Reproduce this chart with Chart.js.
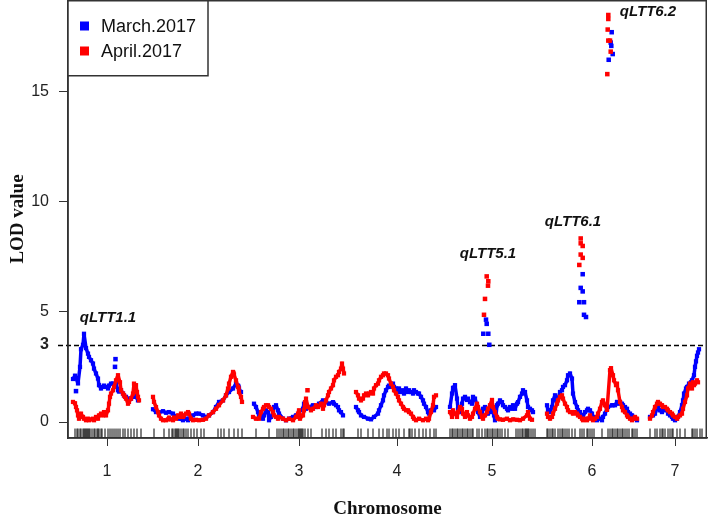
<!DOCTYPE html>
<html>
<head>
<meta charset="utf-8">
<script src="https://cdn.jsdelivr.net/npm/chart.js@4.4.0/dist/chart.umd.min.js"></script>
<style>
  html, body { margin: 0; padding: 0; background: #fff; }
</style>
</head>
<body>
<canvas id="chart" width="708" height="515"></canvas>
<script>
// positions along the genome (map units), LOD values
const chromLabels = ["1", "2", "3", "4", "5", "6", "7"];
const chromTicks = [39, 130, 231, 329, 424, 524, 607];
const lodTicks = [0, 5, 10, 15];
const threshold = 3.5;
const thresholdLabel = "3";

const marchChr1 = [[5,1.95],[7,2.1],[10,1.75],[12,2.5],[13,3.3],[15,3.5],[16,4.0],[18,3.35],[20,3.1],[21,2.95],[23,2.8],[25,2.65],[26,2.42],[28,2.2],[30,1.97],[31,1.67],[33,1.52],[35,1.59],[36,1.65],[38,1.59],[40,1.52],[41,1.65],[43,1.74],[45,1.74],[48,1.74],[50,1.44],[51,1.38],[53,1.44],[55,1.29],[56,1.2],[58,1.14],[60,1.06],[61,1.0],[63,1.06],[65,1.14],[66,1.21],[68,1.14],[70,0.98]];
const aprilChr1 = [[5,0.91],[7,0.85],[8,0.68],[9,0.53],[10,0.3],[11,0.15],[13,0.38],[15,0.23],[16,0.15],[18,0.08],[20,0.15],[21,0.08],[23,0.12],[25,0.15],[26,0.08],[28,0.23],[30,0.15],[31,0.3],[33,0.38],[35,0.3],[36,0.45],[38,0.3],[40,0.53],[41,0.83],[42,1.14],[43,1.29],[45,1.44],[46,1.59],[48,1.89],[50,2.12],[52,1.8],[53,1.44],[55,1.29],[56,1.21],[57,1.14],[58,1.06],[60,0.83],[61,0.91],[63,1.06],[65,1.29],[66,1.74],[68,1.67],[69,1.36],[70,1.14],[71,0.98]];

const marchChr2 = [[85,0.58],[88,0.45],[91,0.42],[95,0.49],[98,0.42],[101,0.45],[105,0.38],[108,0.23],[111,0.15],[115,0.08],[118,0.15],[120,0.08],[121,0.15],[125,0.3],[128,0.38],[131,0.38],[135,0.3],[138,0.23],[141,0.3],[145,0.45],[148,0.68],[151,0.91],[155,0.98],[158,1.21],[161,1.36],[165,1.52],[168,1.74],[170,1.65],[171,1.52],[173,1.36]];
const aprilChr2 = [[85,1.14],[86,0.91],[88,0.68],[90,0.45],[91,0.3],[93,0.15],[95,0.08],[98,0.08],[100,0.12],[101,0.2],[103,0.12],[105,0.08],[106,0.2],[108,0.15],[110,0.3],[111,0.23],[113,0.38],[115,0.23],[116,0.3],[118,0.38],[120,0.45],[121,0.38],[123,0.15],[125,0.08],[128,0.1],[131,0.08],[135,0.1],[138,0.15],[141,0.3],[145,0.45],[148,0.6],[151,0.76],[155,0.98],[158,1.21],[160,1.52],[161,1.74],[163,2.05],[165,2.27],[166,2.15],[168,1.89],[170,1.59],[171,1.36],[173,1.14],[174,0.91]];

const marchChr3 = [[186,0.83],[188,0.68],[190,0.45],[191,0.23],[193,0.38],[195,0.15],[196,0.3],[198,0.53],[200,0.45],[201,0.08],[203,0.23],[205,0.45],[206,0.68],[208,0.76],[210,0.53],[211,0.38],[215,0.15],[218,0.08],[221,0.15],[225,0.23],[228,0.3],[231,0.45],[235,0.6],[236,0.83],[238,0.6],[241,0.68],[245,0.76],[248,0.68],[251,0.83],[255,0.98],[258,0.9],[261,0.83],[265,0.9],[266,0.83],[268,0.76],[270,0.68],[271,0.53],[273,0.45],[275,0.3]];
const aprilChr3 = [[185,0.23],[188,0.15],[191,0.15],[193,0.45],[195,0.6],[196,0.68],[198,0.76],[200,0.76],[201,0.68],[203,0.6],[205,0.45],[206,0.3],[208,0.23],[210,0.15],[211,0.23],[215,0.15],[218,0.08],[221,0.15],[225,0.08],[228,0.23],[230,0.38],[231,0.53],[232,0.15],[235,0.3],[236,0.53],[237,0.9],[238,1.06],[240,0.68],[243,0.53],[245,0.6],[248,0.76],[250,0.68],[253,0.83],[255,0.6],[256,0.76],[258,0.98],[260,1.21],[261,1.36],[263,1.52],[265,1.67],[266,1.89],[268,2.05],[270,2.12],[271,2.27],[273,2.42],[274,2.65],[275,2.42],[276,2.2]];

const marchChr4 = [[288,0.68],[290,0.53],[291,0.45],[293,0.3],[296,0.23],[300,0.15],[303,0.12],[306,0.23],[310,0.38],[311,0.53],[313,0.76],[315,0.98],[316,1.21],[318,1.44],[320,1.59],[321,1.65],[323,1.59],[325,1.74],[326,1.59],[328,1.52],[330,1.36],[331,1.52],[333,1.36],[335,1.44],[336,1.29],[338,1.52],[340,1.36],[341,1.44],[343,1.36],[345,1.29],[346,1.44],[348,1.36],[350,1.29],[351,1.29],[353,1.14],[355,0.98],[356,0.83],[358,0.68],[360,0.45],[361,0.38],[363,0.53],[365,0.6],[366,0.53],[368,0.68]];
const aprilChr4 = [[288,1.36],[290,1.21],[291,1.06],[293,0.98],[295,1.06],[296,1.21],[298,1.29],[300,1.21],[301,1.29],[303,1.36],[305,1.29],[306,1.52],[308,1.67],[310,1.74],[311,1.89],[313,2.05],[315,2.12],[316,2.2],[318,2.2],[320,2.12],[321,1.97],[323,1.74],[325,1.59],[326,1.44],[328,1.29],[330,1.14],[331,0.98],[333,0.83],[335,0.68],[336,0.6],[338,0.53],[340,0.53],[341,0.45],[343,0.38],[345,0.23],[346,0.15],[348,0.08],[351,0.15],[355,0.08],[358,0.15],[360,0.08],[361,0.15],[363,0.45],[365,0.76],[366,1.14],[368,1.21]];

const marchChr5 = [[382,0.68],[384,1.29],[385,1.55],[387,1.67],[389,1.06],[390,0.6],[392,0.45],[394,0.83],[395,1.06],[397,1.14],[399,1.0],[400,1.06],[402,0.9],[404,0.83],[405,1.14],[407,1.06],[409,0.76],[410,0.45],[412,0.23],[414,0.38],[415,0.6],[417,0.68],[419,0.53],[420,0.38],[422,0.45],[424,0.68],[426,0.3],[427,0.08],[428,0.3],[429,0.76],[430,0.83],[432,0.98],[434,0.9],[435,0.76],[437,0.68],[439,0.6],[440,0.53],[442,0.68],[444,0.6],[445,0.76],[447,0.6],[449,0.83],[450,0.9],[452,1.14],[454,1.29],[455,1.44],[457,1.36],[459,0.98],[460,0.68],[462,0.6],[464,0.53],[465,0.45]];
const aprilChr5 = [[382,0.45],[384,0.23],[385,0.53],[387,0.38],[389,0.23],[390,0.45],[392,0.68],[394,0.6],[395,0.38],[397,0.23],[399,0.45],[400,0.3],[402,0.15],[404,0.23],[405,0.38],[407,0.6],[409,0.83],[410,0.68],[412,0.45],[414,0.23],[415,0.15],[417,0.3],[419,0.45],[420,0.6],[422,0.76],[424,1.0],[425,0.68],[427,0.45],[429,0.23],[430,0.15],[432,0.12],[435,0.1],[439,0.15],[442,0.08],[445,0.12],[449,0.1],[452,0.08],[455,0.15],[459,0.3],[460,0.45],[462,0.15],[464,0.1]];

const marchChr6 = [[479,0.76],[480,0.53],[482,0.45],[484,0.68],[485,0.98],[487,1.21],[489,0.9],[490,1.06],[492,1.36],[494,1.44],[495,1.59],[497,1.67],[499,1.89],[500,2.12],[502,2.2],[504,1.97],[505,1.29],[507,0.9],[509,0.68],[510,0.53],[512,0.45],[514,0.3],[515,0.23],[517,0.45],[519,0.53],[520,0.6],[522,0.53],[524,0.38],[525,0.23],[527,0.15],[529,0.08],[530,0.23],[532,0.15],[534,0.08],[535,0.23],[537,0.38],[539,0.6],[540,0.68],[544,0.76],[545,0.76],[547,0.76],[549,0.91],[550,0.83],[552,0.91],[554,0.83],[555,0.76],[557,0.68],[559,0.6],[560,0.45],[562,0.38],[564,0.3],[565,0.23],[567,0.15],[569,0.08]];
const aprilChr6 = [[479,0.38],[480,0.23],[482,0.15],[484,0.23],[485,0.38],[487,0.6],[489,0.83],[490,0.98],[492,1.14],[494,1.21],[495,1.06],[497,0.83],[499,0.68],[500,0.53],[502,0.45],[504,0.45],[505,0.38],[507,0.45],[509,0.38],[510,0.3],[512,0.23],[514,0.15],[515,0.08],[517,0.15],[519,0.08],[520,0.15],[522,0.3],[524,0.15],[525,0.08],[527,0.15],[529,0.23],[530,0.38],[532,0.6],[534,0.91],[535,0.98],[537,0.76],[539,0.55],[542,2.35],[543,2.44],[545,2.12],[546,1.89],[548,1.67],[549,1.74],[550,1.44],[552,0.91],[554,0.68],[555,0.53],[557,0.45],[559,0.3],[560,0.23],[562,0.15],[564,0.08],[565,0.15],[567,0.23],[569,0.15]];

const marchChr7 = [[582,0.23],[585,0.3],[587,0.38],[589,0.6],[590,0.68],[592,0.53],[594,0.45],[595,0.53],[597,0.6],[599,0.53],[600,0.38],[602,0.3],[604,0.23],[605,0.15],[607,0.08],[609,0.15],[610,0.23],[612,0.45],[614,0.76],[615,0.98],[616,1.29],[618,1.52],[619,1.59],[621,1.74],[623,1.8],[624,1.89],[626,2.12],[627,2.5],[628,2.75],[629,3.0],[630,3.15],[631,3.3]];
const aprilChr7 = [[582,0.15],[584,0.3],[585,0.45],[587,0.68],[589,0.83],[590,0.91],[592,0.83],[594,0.76],[595,0.68],[597,0.68],[599,0.6],[600,0.53],[602,0.45],[604,0.38],[605,0.3],[607,0.23],[609,0.15],[610,0.23],[612,0.3],[614,0.38],[615,0.6],[617,0.91],[619,1.21],[620,1.52],[622,1.74],[624,1.52],[625,1.8],[626,1.67],[627,1.74],[629,1.89],[630,1.8]];

// isolated points (QTL peaks and stray values)
const marchSingles = [[8,1.4],[47,2.5],[47.5,2.85],[418,4.64],[418.7,4.45],[415.3,4.0],[420.3,4.0],[421.3,3.5],[514.7,6.7],[512.7,6.08],[514.7,5.92],[511.3,5.43],[516,5.43],[516,4.86],[518,4.76],[543.7,17.67],[542.7,17.2],[543.3,17.05],[544.7,16.68],[540.7,16.42]];
const aprilSingles = [[239.5,1.44],[418.7,6.6],[420.3,6.38],[420,6.18],[417,5.58],[416,4.86],[512.7,8.32],[512.7,8.1],[514.7,7.98],[512.7,7.59],[514.7,7.44],[511.3,7.12],[540.3,18.45],[540.3,18.27],[539.7,17.79],[540.3,17.29],[542,17.29],[542.7,16.79],[539.3,15.77]];

// marker positions (rug)
const markerPos = [7,9,10,12,13,15,16,17,18,19,20,21,22,24,26,27,29,30,31,33,34,37,40,42,44,46,48,50,52,55,57,60,63,66,69,73,
  86,96,101,104,105,107,108,109,110,111,113,115,116,118,120,123,126,129,133,136,150,153,156,161,166,170,174,
  188,201,209,211,213,215,216,218,220,221,223,225,226,228,230,231,232,233,234,235,237,240,243,254,258,261,265,268,273,275,276,
  290,293,300,305,311,315,319,321,325,328,331,336,341,342,344,347,351,355,358,362,366,368,
  382,384,385,387,389,390,392,394,395,397,399,400,402,404,405,409,411,414,417,419,420,422,424,425,427,429,430,432,434,437,440,448,450,452,454,455,457,458,459,460,461,463,465,467,
  479,480,482,484,485,487,490,492,494,495,497,499,501,504,507,512,514,516,519,520,522,524,526,534,540,542,544,545,547,549,550,552,554,555,557,559,561,564,565,567,569,
  582,587,589,592,594,595,597,600,602,604,605,609,612,617,624,625,627,629,632,634];

const qtlNames = ["qLTT1.1", "qLTT5.1", "qLTT6.1", "qLTT6.2"];
const qtlPos = [40, 420, 505, 580];
const qtlLod = [4.73, 7.64, 9.09, 18.6];

const sans = "'Liberation Sans', Arial, sans-serif";
const serif = "'Liberation Serif', 'Times New Roman', serif";

const series = [
    { label: "March.2017", color: "#0000ff", order: 2,
      chroms: [marchChr1, marchChr2, marchChr3, marchChr4, marchChr5, marchChr6, marchChr7], singles: marchSingles },
    { label: "April.2017", color: "#ff0000", order: 1,
      chroms: [aprilChr1, aprilChr2, aprilChr3, aprilChr4, aprilChr5, aprilChr6, aprilChr7], singles: aprilSingles }
];

const toXY = arr => arr.map(p => ({ x: p[0], y: p[1] }));

const datasets = [];
series.forEach(s => {
    s.chroms.forEach(c => {
        datasets.push({
            label: s.label,
            data: toXY(c),
            showLine: true,
            borderColor: s.color,
            backgroundColor: s.color,
            borderWidth: 3.5,
            borderJoinStyle: "round",
            pointStyle: "rect",
            pointRadius: 3,
            pointBorderWidth: 0,
            order: s.order
        });
    });
    datasets.push({
        label: s.label,
        data: toXY(s.singles),
        showLine: false,
        backgroundColor: s.color,
        pointStyle: "rect",
        pointRadius: 3.2,
        pointBorderWidth: 0,
        order: s.order
    });
});
datasets.push({
    label: "markers",
    data: markerPos.map(x => ({ x: x, y: -0.5 })),
    showLine: false,
    pointStyle: "line",
    rotation: 90,
    pointRadius: 4.5,
    pointBorderWidth: 1,
    pointBorderColor: "#000",
    order: 3
});

// scales compute their own edge padding; the frame here must fill the canvas edges
function noEdgePadding(s) {
    s.paddingTop = 0;
    s.paddingBottom = 0;
    s.paddingLeft = 0;
    s.paddingRight = 0;
}

const extras = {
    id: "extras",
    beforeDatasetsDraw(chart) {
        const { ctx, chartArea, scales } = chart;
        const y = Math.round(scales.y.getPixelForValue(threshold)) + 0.5;
        ctx.save();
        ctx.strokeStyle = "#000";
        ctx.lineWidth = 1.3;
        ctx.setLineDash([5, 3]);
        ctx.beginPath();
        ctx.moveTo(chartArea.left - 10, y);
        ctx.lineTo(chartArea.right, y);
        ctx.stroke();
        ctx.restore();
    },
    afterDatasetsDraw(chart) {
        const { ctx, chartArea, scales } = chart;
        ctx.save();
        // plot frame
        ctx.strokeStyle = "#333";
        ctx.lineWidth = 1.5;
        ctx.strokeRect(chartArea.left, chartArea.top + 0.75, chartArea.right - chartArea.left - 0.75, chartArea.bottom - chartArea.top - 0.75);

        // QTL names
        ctx.fillStyle = "#111";
        ctx.font = "italic bold 15px " + sans;
        ctx.textAlign = "center";
        ctx.textBaseline = "middle";
        qtlNames.forEach((n, i) => {
            ctx.fillText(n, scales.x.getPixelForValue(qtlPos[i]), scales.y.getPixelForValue(qtlLod[i]));
        });

        // legend box
        const lx = chartArea.left, ly = chartArea.top;
        ctx.fillStyle = "#fff";
        ctx.fillRect(lx, ly, 140, 76);
        ctx.strokeRect(lx, ly + 0.75, 140, 75);
        ctx.font = "18px " + sans;
        ctx.textAlign = "left";
        series.forEach((s, i) => {
            const cy = ly + 26 + i * 25;
            ctx.fillStyle = s.color;
            ctx.fillRect(lx + 12, cy - 4.5, 9, 9);
            ctx.fillStyle = "#111";
            ctx.fillText(s.label, lx + 33, cy + 1);
        });
        ctx.restore();
    }
};

const chart = new Chart("chart", {
    type: "scatter",
    data: { datasets: datasets },
    options: {
        responsive: false,
        animation: false,
        devicePixelRatio: 1,
        layout: { autoPadding: false, padding: { top: 0, right: 1, bottom: 0, left: 0 } },
        scales: {
            x: {
                type: "linear",
                min: 0,
                max: 639,
                afterBuildTicks: s => { s.ticks = chromTicks.map(v => ({ value: v })); },
                afterFit: s => { s.height = 77; noEdgePadding(s); },
                ticks: {
                    callback: v => chromLabels[chromTicks.indexOf(v)],
                    font: { family: sans, size: 16 },
                    color: "#222",
                    padding: 16,
                    maxRotation: 0,
                    autoSkip: false
                },
                grid: { drawOnChartArea: false, tickLength: 8, tickColor: "#333" },
                border: { color: "#333", width: 1.5 },
                title: {
                    display: true,
                    text: "Chromosome",
                    font: { family: serif, size: 19, weight: "bold" },
                    color: "#111",
                    padding: { top: 0, bottom: -5 }
                }
            },
            y: {
                type: "linear",
                min: -0.725,
                max: 19.13,
                afterBuildTicks: s => {
                    s.ticks = lodTicks.concat([threshold]).sort((a, b) => a - b).map(v => ({ value: v }));
                },
                afterFit: s => { s.width = 68; noEdgePadding(s); },
                ticks: {
                    callback: v => v === threshold ? thresholdLabel : String(v),
                    font: ctx => ({ family: sans, size: 16, weight: ctx.tick && ctx.tick.value === threshold ? "bold" : "normal" }),
                    color: "#222",
                    padding: 10
                },
                grid: {
                    drawOnChartArea: false,
                    tickLength: 9,
                    tickColor: ctx => ctx.tick && ctx.tick.value === threshold ? "rgba(0,0,0,0)" : "#333"
                },
                border: { color: "#333", width: 1.5 },
                title: {
                    display: true,
                    text: "LOD value",
                    font: { family: serif, size: 19, weight: "bold" },
                    color: "#111",
                    padding: { top: 7, bottom: 0 }
                }
            }
        },
        plugins: {
            legend: { display: false },
            tooltip: { enabled: false }
        }
    },
    plugins: [extras]
});
</script>
</body>
</html>
